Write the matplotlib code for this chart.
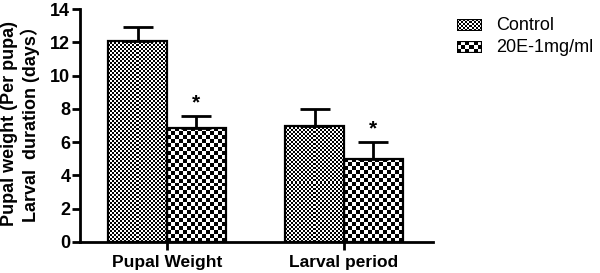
import numpy as np
import matplotlib
matplotlib.use("Agg")
import matplotlib.pyplot as plt
from matplotlib.patches import Rectangle

plt.rcParams['font.family'] = ['Liberation Sans', 'Noto Sans CJK SC', 'DejaVu Sans']
plt.rcParams['font.weight'] = 'bold'

categories = ['Pupal Weight', 'Larval period']
groups = ['Control', '20E-1mg/ml']
control_mean = [12.1, 7.0]
control_err = [0.8, 1.0]
treat_mean = [6.85, 5.0]
treat_err = [0.7, 1.0]
signif = ['*', '*']

W, H = 600, 273
fig = plt.figure(figsize=(W / 100, H / 100), dpi=100)
ax = fig.add_axes([80 / W, 31 / H, 353 / W, 233 / H])

xlim = (-0.4915, 1.503)
ylim = (0, 14)
ax.set_xlim(*xlim)
ax.set_ylim(*ylim)

px_x = (xlim[1] - xlim[0]) / 353.0
px_y = (ylim[1] - ylim[0]) / 233.0


def checker(axis, x0, y0, w, h, cell_px, dx, dy, zorder=2):
    nx = max(1, int(round(w / dx / cell_px)))
    ny = max(1, int(round(h / dy / cell_px)))
    yy, xx = np.indices((ny, nx))
    arr = (xx + yy) % 2
    rect = Rectangle((x0, y0), w, h, facecolor='none', edgecolor='black',
                     linewidth=1.6, zorder=zorder + 1)
    axis.add_patch(rect)
    im = axis.imshow(arr, cmap='gray', extent=[x0, x0 + w, y0, y0 + h],
                     interpolation='nearest', aspect='auto', zorder=zorder,
                     origin='lower')
    im.set_clip_path(rect)
    return rect


x = np.arange(len(categories))
bw = 0.333
cells = [2, 4]
for i in range(len(categories)):
    checker(ax, x[i] - bw, 0, bw, control_mean[i], cells[0], px_x, px_y)
    checker(ax, x[i], 0, bw, treat_mean[i], cells[1], px_x, px_y)

ax.errorbar(x - bw / 2, control_mean, yerr=[[0] * 2, control_err], fmt='none',
            ecolor='black', elinewidth=2, capsize=11, capthick=2, zorder=5)
ax.errorbar(x + bw / 2, treat_mean, yerr=[[0] * 2, treat_err], fmt='none',
            ecolor='black', elinewidth=2, capsize=11, capthick=2, zorder=5)
for i in range(len(categories)):
    ax.text(x[i] + bw / 2, treat_mean[i] + treat_err[i] + 0.25, signif[i],
            ha='center', va='bottom', fontsize=15, fontweight='bold')

ax.set_xlim(*xlim)
ax.set_ylim(*ylim)
ax.set_yticks(np.arange(0, 15, 2))
ax.set_xticks(x)
ax.set_xticklabels(categories, fontsize=12.5, fontweight='bold')
ax.tick_params(axis='y', labelsize=13, width=2, length=6, pad=1)
ax.tick_params(axis='x', width=2, length=6, pad=3)
for lab in ax.get_yticklabels():
    lab.set_fontweight('bold')
ax.spines['top'].set_visible(False)
ax.spines['right'].set_visible(False)
ax.spines['left'].set_linewidth(2)
ax.spines['bottom'].set_linewidth(2)

fig.text(10 / W, 1 - 123 / H, 'Pupal weight (Per pupa)', rotation=90,
         ha='center', va='center', fontsize=13, fontweight='bold')
fig.text(30 / W, 1 - 120 / H, 'Larval  duration (days\uff09', rotation=90,
         ha='center', va='center', fontsize=13, fontweight='bold')

# legend
sw_y = [19, 41]
for j, name in enumerate(groups):
    lax = fig.add_axes([457 / W, 1 - (sw_y[j] + 12) / H, 25 / W, 12 / H])
    lax.set_xlim(0, 25)
    lax.set_ylim(0, 12)
    lax.axis('off')
    checker(lax, 0, 0, 25, 12, cells[j], 1, 1)
    fig.text(496 / W, 1 - (sw_y[j] + 6) / H, name, ha='left', va='center',
             fontsize=13, fontweight='normal')

fig.savefig('out.png', dpi=100)
